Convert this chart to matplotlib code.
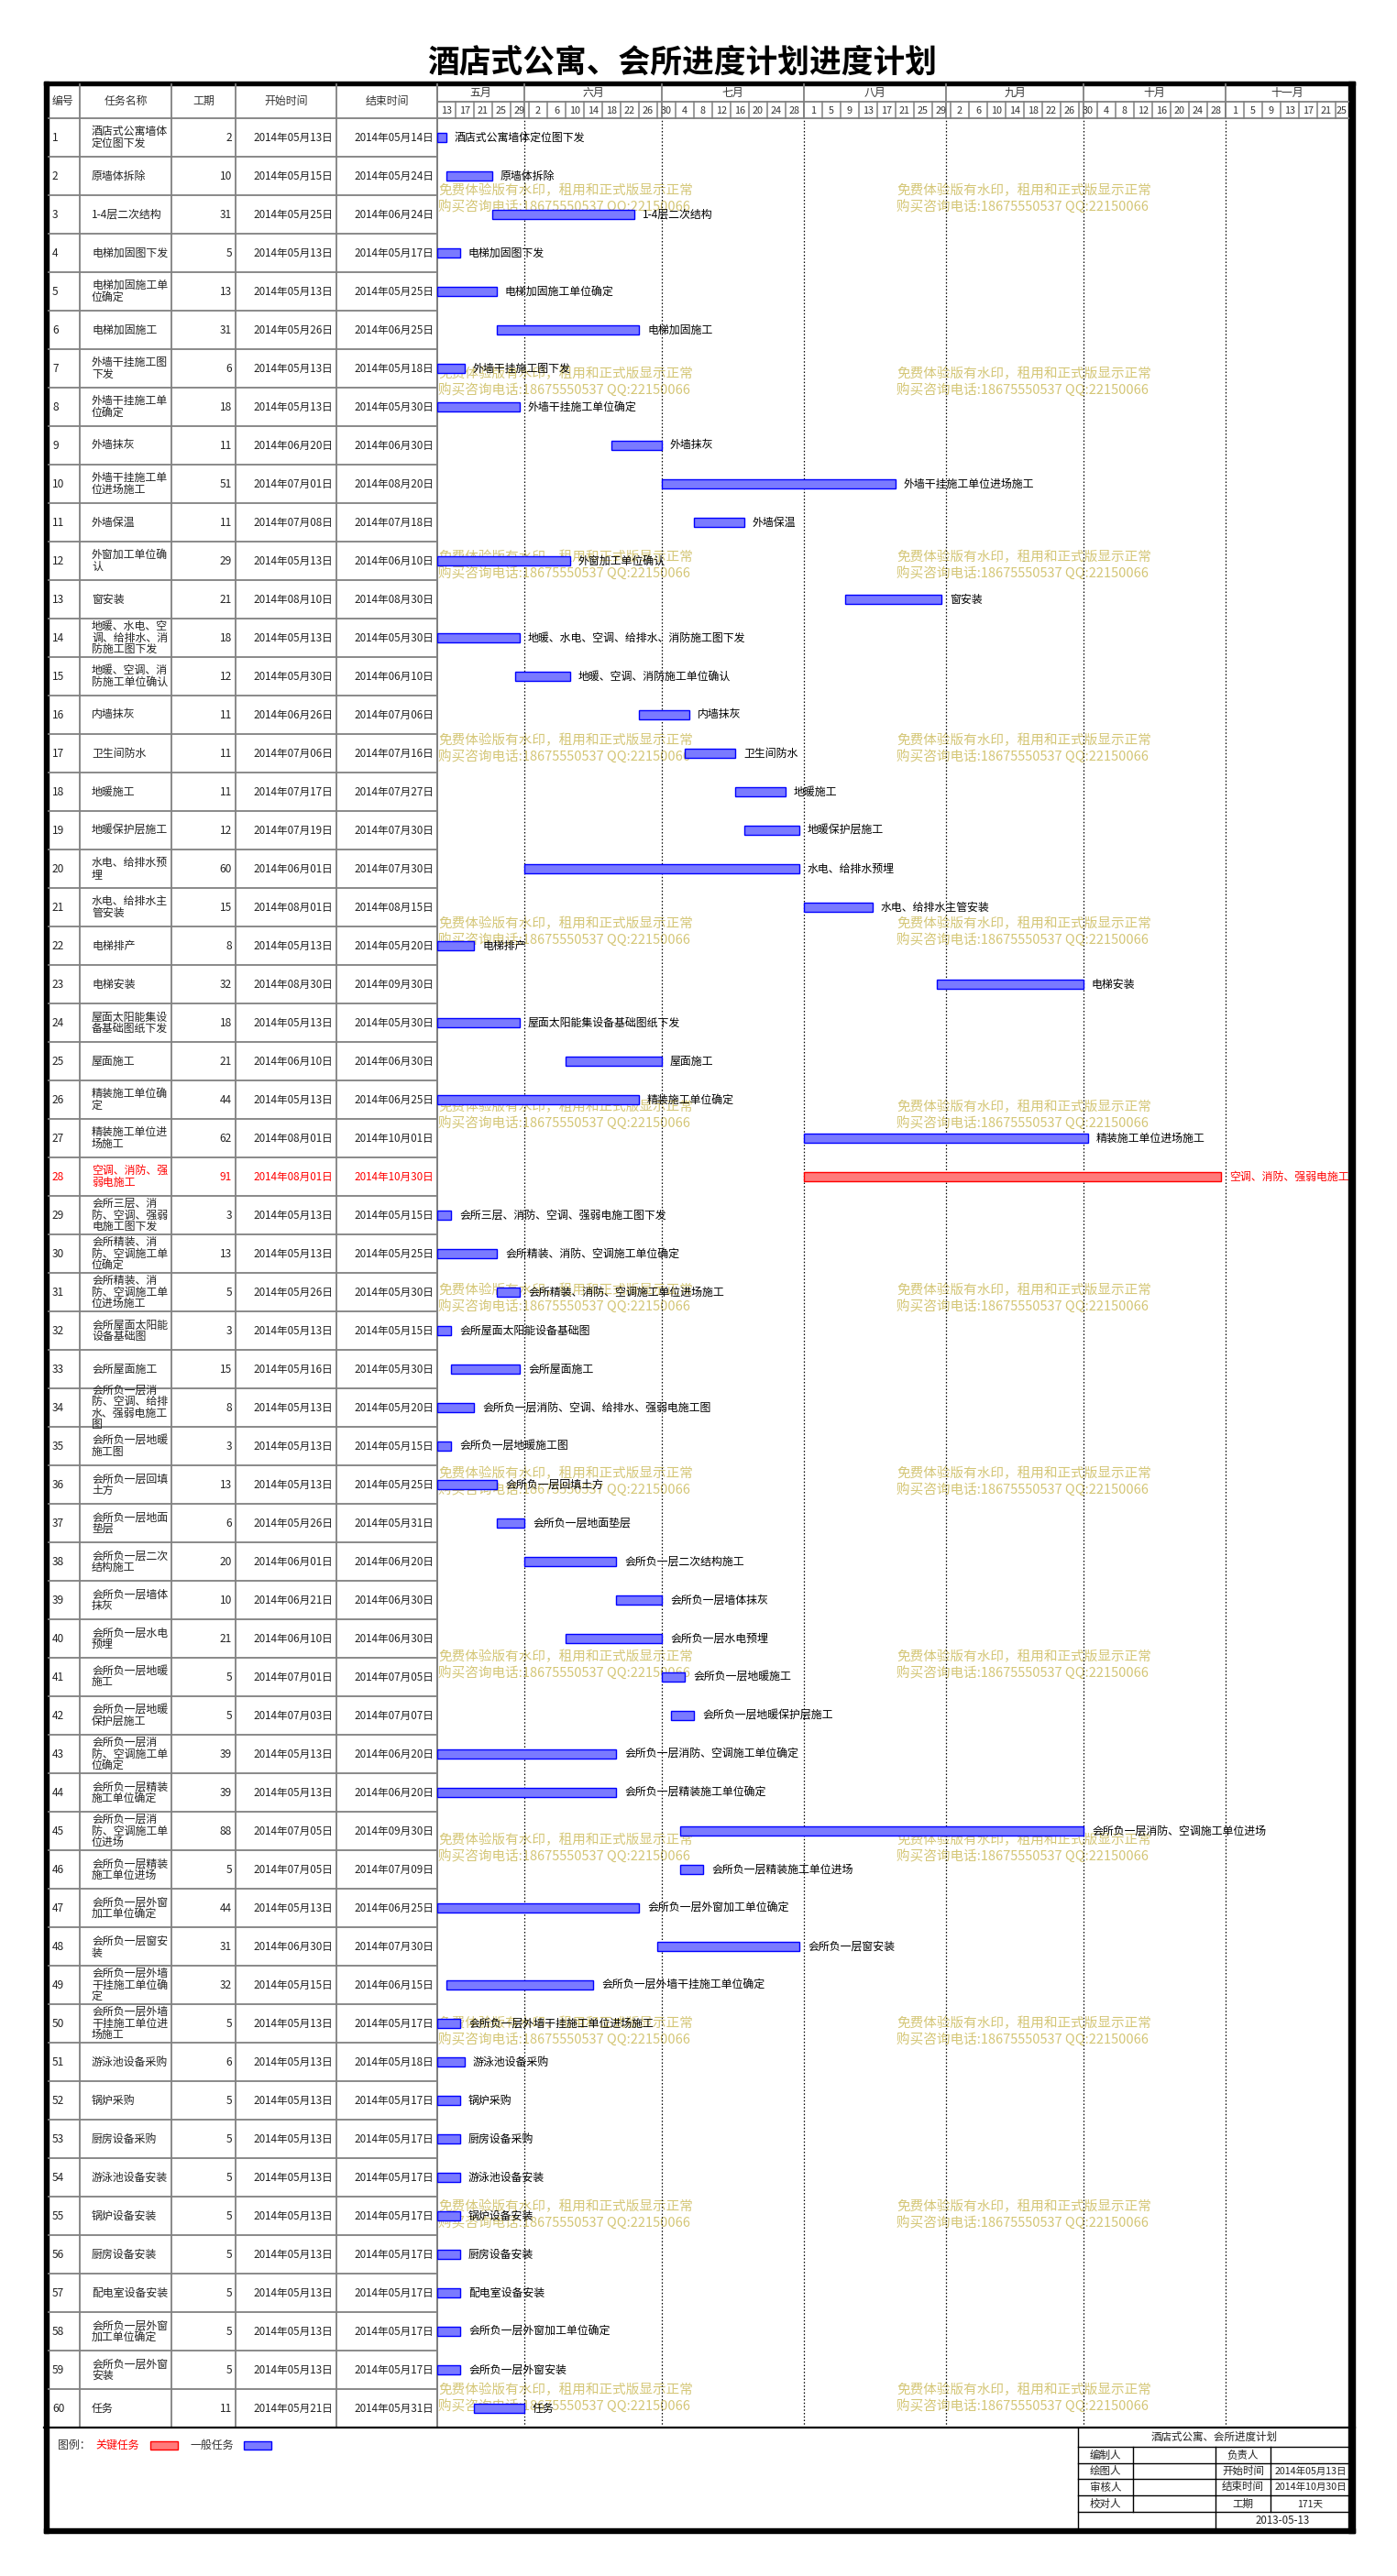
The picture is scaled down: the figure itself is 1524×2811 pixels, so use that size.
import matplotlib
matplotlib.use('Agg')
import matplotlib.pyplot as plt
import matplotlib.transforms as mtransforms
from matplotlib.patches import Rectangle
from datetime import date, timedelta

plt.rcParams['font.family'] = ['Noto Sans CJK SC', 'DejaVu Sans']

# ---- data ----
names = ["酒店式公寓墙体\n定位图下发", "原墙体拆除", "1-4层二次结构", "电梯加固图下发",
         "电梯加固施工单\n位确定", "电梯加固施工", "外墙干挂施工图\n下发", "外墙干挂施工单\n位确定",
         "外墙抹灰", "外墙干挂施工单\n位进场施工", "外墙保温", "外窗加工单位确\n认", "窗安装",
         "地暖、水电、空\n调、给排水、消\n防施工图下发", "地暖、空调、消\n防施工单位确认",
         "内墙抹灰", "卫生间防水", "地暖施工", "地暖保护层施工", "水电、给排水预\n埋",
         "水电、给排水主\n管安装", "电梯排产", "电梯安装", "屋面太阳能集设\n备基础图纸下发",
         "屋面施工", "精装施工单位确\n定", "精装施工单位进\n场施工", "空调、消防、强\n弱电施工",
         "会所三层、消\n防、空调、强弱\n电施工图下发", "会所精装、消\n防、空调施工单\n位确定",
         "会所精装、消\n防、空调施工单\n位进场施工", "会所屋面太阳能\n设备基础图", "会所屋面施工",
         "会所负一层消\n防、空调、给排\n水、强弱电施工\n图", "会所负一层地暖\n施工图",
         "会所负一层回填\n土方", "会所负一层地面\n垫层", "会所负一层二次\n结构施工",
         "会所负一层墙体\n抹灰", "会所负一层水电\n预埋", "会所负一层地暖\n施工",
         "会所负一层地暖\n保护层施工", "会所负一层消\n防、空调施工单\n位确定",
         "会所负一层精装\n施工单位确定", "会所负一层消\n防、空调施工单\n位进场",
         "会所负一层精装\n施工单位进场", "会所负一层外窗\n加工单位确定", "会所负一层窗安\n装",
         "会所负一层外墙\n干挂施工单位确\n定", "会所负一层外墙\n干挂施工单位进\n场施工",
         "游泳池设备采购", "锅炉采购", "厨房设备采购", "游泳池设备安装", "锅炉设备安装",
         "厨房设备安装", "配电室设备安装", "会所负一层外窗\n加工单位确定", "会所负一层外窗\n安装", "任务"]
durations = [2, 10, 31, 5, 13, 31, 6, 18, 11, 51, 11, 29, 21, 18, 12, 11, 11, 11, 12, 60,
             15, 8, 32, 18, 21, 44, 62, 91, 3, 13, 5, 3, 15, 8, 3, 13, 6, 20, 10, 21,
             5, 5, 39, 39, 88, 5, 44, 31, 32, 5, 6, 5, 5, 5, 5, 5, 5, 5, 5, 11]
starts = ["05-13", "05-15", "05-25", "05-13", "05-13", "05-26", "05-13", "05-13", "06-20", "07-01",
          "07-08", "05-13", "08-10", "05-13", "05-30", "06-26", "07-06", "07-17", "07-19", "06-01",
          "08-01", "05-13", "08-30", "05-13", "06-10", "05-13", "08-01", "08-01", "05-13", "05-13",
          "05-26", "05-13", "05-16", "05-13", "05-13", "05-13", "05-26", "06-01", "06-21", "06-10",
          "07-01", "07-03", "05-13", "05-13", "07-05", "07-05", "05-13", "06-30", "05-15", "05-13",
          "05-13", "05-13", "05-13", "05-13", "05-13", "05-13", "05-13", "05-13", "05-13", "05-21"]
ends = ["05-14", "05-24", "06-24", "05-17", "05-25", "06-25", "05-18", "05-30", "06-30", "08-20",
        "07-18", "06-10", "08-30", "05-30", "06-10", "07-06", "07-16", "07-27", "07-30", "07-30",
        "08-15", "05-20", "09-30", "05-30", "06-30", "06-25", "10-01", "10-30", "05-15", "05-25",
        "05-30", "05-15", "05-30", "05-20", "05-15", "05-25", "05-31", "06-20", "06-30", "06-30",
        "07-05", "07-07", "06-20", "06-20", "09-30", "07-09", "06-25", "07-30", "06-15", "05-17",
        "05-18", "05-17", "05-17", "05-17", "05-17", "05-17", "05-17", "05-17", "05-17", "05-31"]
critical = [28]
month_names = ["五月", "六月", "七月", "八月", "九月", "十月", "十一月"]
info_rows = [("编制人", "负责人", ""), ("绘图人", "开始时间", "2014年05月13日"),
             ("审核人", "结束时间", "2014年10月30日"), ("校对人", "工期", "171天")]

# ---- layout ----
W, H = 1524, 2811
fig = plt.figure(figsize=(W / 100, H / 100), dpi=100)
ax0 = fig.add_axes([0, 0, 1, 1])
ax0.set_xlim(0, W)
ax0.set_ylim(H, 0)
ax0.axis('off')

X0, X1 = 477, 1471        # chart area
Y_HEAD, Y_MID, Y_TOP, Y_END = 92, 111, 129, 2649
RH = (Y_END - Y_TOP) / 60
t0 = date(2014, 5, 13)
span = (X1 - X0) / 5.0

ax = fig.add_axes([X0 / W, 1 - Y_END / H, (X1 - X0) / W, (Y_END - Y_TOP) / H])
ax.set_xlim(0, span)
ax.set_ylim(60, 0)
ax.axis('off')

def dd(s):
    m, d = s.split('-')
    return date(2014, int(m), int(d))

fs = 8.6
grey = '#808080'
txt = '#222222'

# title
ax0.text(744, 68, "酒店式公寓、会所进度计划进度计划", ha='center', va='center',
         fontsize=25, fontweight='bold', color='black')

# table header
cols = [53, 87, 187, 257, 367, X0]
heads = ["编号", "任务名称", "工期", "开始时间", "结束时间"]
for i, h in enumerate(heads):
    if i == 0:
        ax0.text(57, 110.5, h, ha='left', va='center', fontsize=fs, color='#333333')
    else:
        ax0.text((cols[i] + cols[i + 1]) / 2, 110.5, h, ha='center', va='center', fontsize=fs, color='#333333')
for c in cols[1:]:
    ax0.plot([c, c], [Y_HEAD, Y_END], color=grey, lw=1.3)
ax0.plot([53, X1], [Y_TOP, Y_TOP], color=grey, lw=1.3)
for k in range(1, 60):
    y = Y_TOP + k * RH
    ax0.plot([53, X0], [y, y], color=grey, lw=1.3)

# table rows
for i in range(60):
    yc = Y_TOP + (i + 0.5) * RH
    c = 'red' if (i + 1) in critical else txt
    ax0.text(57, yc, str(i + 1), ha='left', va='center', fontsize=fs, color=c)
    ax0.text(100, yc, names[i], ha='left', va='center', fontsize=fs, color=c, linespacing=0.95)
    ax0.text(253, yc, str(durations[i]), ha='right', va='center', fontsize=fs, color=c)
    s, e = dd(starts[i]), dd(ends[i])
    ax0.text(363, yc, "2014年%02d月%02d日" % (s.month, s.day), ha='right', va='center', fontsize=8.4, color=c)
    ax0.text(473, yc, "2014年%02d月%02d日" % (e.month, e.day), ha='right', va='center', fontsize=8.4, color=c)

# timeline header (x in chart days, y in pixels)
tr = mtransforms.blended_transform_factory(ax.transData, ax0.transData)
ax0.plot([0, span], [Y_MID, Y_MID], color=grey, lw=1.3, transform=tr, clip_on=False)
mstarts = [0] + [(date(2014, m, 1) - t0).days for m in range(6, 12)] + [span]
for j, mn in enumerate(month_names):
    a, b = mstarts[j], mstarts[j + 1]
    ax0.text((a + b) / 2, 101.5, mn, ha='center', va='center', fontsize=fs, color='#333333',
             transform=tr, clip_on=False)
    if j > 0:
        ax0.plot([a, a], [Y_HEAD, Y_TOP], color=grey, lw=1.3, transform=tr, clip_on=False)
        ax.axvline(a, color='black', lw=0.9, ls=(0, (1.2, 1.8)))
k = 0
while 4 * k < span:
    a = 4 * k
    b = min(a + 4, span)
    d = t0 + timedelta(days=a)
    ax0.text((a + b) / 2, 120.5, str(d.day), ha='center', va='center', fontsize=7.8,
             color='#333333', transform=tr, clip_on=False)
    if k > 0:
        ax0.plot([a, a], [Y_MID, Y_TOP], color=grey, lw=1.1, transform=tr, clip_on=False)
    k += 1

# watermark
wm_col = '#d4c676'
for k in range(13):
    y1 = 208 + 200 * k
    for x in (X0 + 1, 978):
        ax0.text(x, y1, "免费体验版有水印，租用和正式版显示正常", ha='left', va='center',
                 fontsize=10.5, color=wm_col, zorder=1)
        ax0.text(x, y1 + 18, "购买咨询电话:18675550537 QQ:22150066", ha='left', va='center',
                 fontsize=10.5, color=wm_col, zorder=1)

# bars
for i in range(60):
    s = (dd(starts[i]) - t0).days
    crit = (i + 1) in critical
    ax.barh(i + 0.5, durations[i], left=s, height=0.24,
            color='#ff7a7a' if crit else '#7a7aff',
            edgecolor='red' if crit else 'blue', linewidth=1.0, zorder=3)
    ax.text(s + durations[i] + 1.8, i + 0.5, names[i].replace('\n', ''), ha='left', va='center',
            fontsize=fs, color='red' if crit else 'black', zorder=4, clip_on=False)

# left edge of chart area
ax0.plot([X0, X0], [Y_HEAD, Y_END], color=grey, lw=1.3)

# bottom separator
ax0.plot([48, 1478], [Y_END, Y_END], color='black', lw=1.6)

# legend
ax0.text(63, 2668, "图例：", ha='left', va='center', fontsize=fs, color='#333333')
ax0.text(104, 2668, "关键任务", ha='left', va='center', fontsize=fs, color='red')
ax0.add_patch(Rectangle((164, 2664), 30, 9, facecolor='#ff7a7a', edgecolor='red', lw=1))
ax0.text(207, 2668, "一般任务", ha='left', va='center', fontsize=fs, color='#333333')
ax0.add_patch(Rectangle((266, 2664), 30, 9, facecolor='#7a7aff', edgecolor='blue', lw=1))

# info block
IX = [1176, 1236, 1326, 1386, 1473]
IY = [2649, 2670, 2688, 2705, 2723, 2741, 2759]
ax0.plot([IX[0], IX[0]], [IY[0], IY[-1]], color='black', lw=1)
for y in IY[1:-1]:
    ax0.plot([IX[0], IX[-1]], [y, y], color='black', lw=1)
for x in (IX[1], IX[3]):
    ax0.plot([x, x], [IY[1], IY[5]], color='black', lw=1)
ax0.plot([IX[2], IX[2]], [IY[1], IY[6]], color='black', lw=1)
ax0.text((IX[0] + IX[-1]) / 2, (IY[0] + IY[1]) / 2, "酒店式公寓、会所进度计划", ha='center',
         va='center', fontsize=8.3, color='#222222')
for r, (a, b, c) in enumerate(info_rows):
    yc = (IY[r + 1] + IY[r + 2]) / 2
    ax0.text((IX[0] + IX[1]) / 2, yc, a, ha='center', va='center', fontsize=8.3, color='#222222')
    ax0.text((IX[2] + IX[3]) / 2, yc, b, ha='center', va='center', fontsize=8.3, color='#222222')
    ax0.text((IX[3] + IX[4]) / 2, yc, c, ha='center', va='center', fontsize=7.6, color='#222222')
ax0.text((IX[2] + IX[4]) / 2, (IY[5] + IY[6]) / 2, "2013-05-13", ha='center', va='center',
         fontsize=8.3, color='#222222')

# outer frame
ax0.add_patch(Rectangle((48, 89), 5, 2764 - 89, color='black'))
ax0.add_patch(Rectangle((48, 89), 1478 - 48, 4, color='black'))
ax0.add_patch(Rectangle((1471, 89), 7, 2764 - 89, color='black'))
ax0.add_patch(Rectangle((48, 2759), 1478 - 48, 5, color='black'))

fig.savefig('out.png', dpi=100, facecolor='white')
